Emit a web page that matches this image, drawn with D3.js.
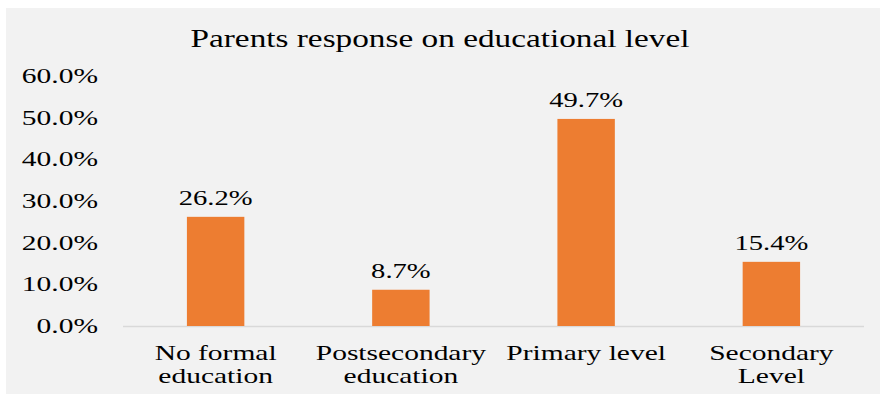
<!DOCTYPE html>
<html>
<head>
<meta charset="utf-8">
<style>
    body { margin: 0; background: #ffffff; }
    svg { display: block; }
</style>
</head>
<body>
<svg id="chart" width="880" height="394"></svg>
<script src="https://cdn.jsdelivr.net/npm/d3@7"></script>
<script>
    // chart values
    let categories = [["No formal", "education"], ["Postsecondary", "education"], ["Primary level"], ["Secondary", "Level"]]
    let values = [26.2, 8.7, 49.7, 15.4]
    let yTicks = [0, 10, 20, 30, 40, 50, 60]
    let title = "Parents response on educational level"

    let svg = d3.select("#chart")

    svg.append("rect")
        .attr("x", 6).attr("y", 8)
        .attr("width", 874).attr("height", 386)
        .attr("fill", "#f2f2f2")

    let plotLeft = 123, plotRight = 864, plotTop = 76, plotBottom = 326

    let x = d3.scaleBand()
        .domain(categories.map((d, i) => i))
        .range([plotLeft, plotRight])
        .paddingInner(0.69)
        .paddingOuter(0.345)

    let y = d3.scaleLinear()
        .domain([0, 60])
        .range([plotBottom, plotTop])

    // helper: text stretched horizontally around its anchor (picture text is drawn wide)
    function wideText(g, tx, ty, str, size, anchor, stretch) {
        g.append("g")
            .attr("transform", `translate(${tx},${ty}) scale(${stretch},1)`)
            .append("text")
            .attr("text-anchor", anchor)
            .attr("font-family", "'Liberation Serif', Tinos, 'Times New Roman', serif")
            .attr("font-size", size)
            .attr("fill", "#000")
            .text(str)
    }

    let labels = svg.append("g")

    wideText(labels, 440, 47, title, 26, "middle", 1.28)

    yTicks.forEach(t => {
        wideText(labels, 98, y(t) + 7, t.toFixed(1) + "%", 22, "end", 1.34)
    })

    svg.append("line")
        .attr("x1", plotLeft).attr("x2", plotRight)
        .attr("y1", y(0) + 0.5).attr("y2", y(0) + 0.5)
        .attr("stroke", "#d9d9d9")
        .attr("stroke-width", 1.5)

    svg.selectAll(".bar")
        .data(values)
        .enter()
        .append("rect")
        .attr("class", "bar")
        .attr("x", (d, i) => x(i))
        .attr("width", x.bandwidth())
        .attr("y", d => y(d))
        .attr("height", d => y(0) - y(d))
        .attr("fill", "#ed7d31")

    values.forEach((d, i) => {
        wideText(labels, x(i) + x.bandwidth() / 2, y(d) - 12, d.toFixed(1) + "%", 22, "middle", 1.3)
    })

    categories.forEach((lines, i) => {
        lines.forEach((line, j) => {
            wideText(labels, x(i) + x.bandwidth() / 2, 360 + j * 23, line, 22, "middle", 1.34)
        })
    })
</script>
</body>
</html>
